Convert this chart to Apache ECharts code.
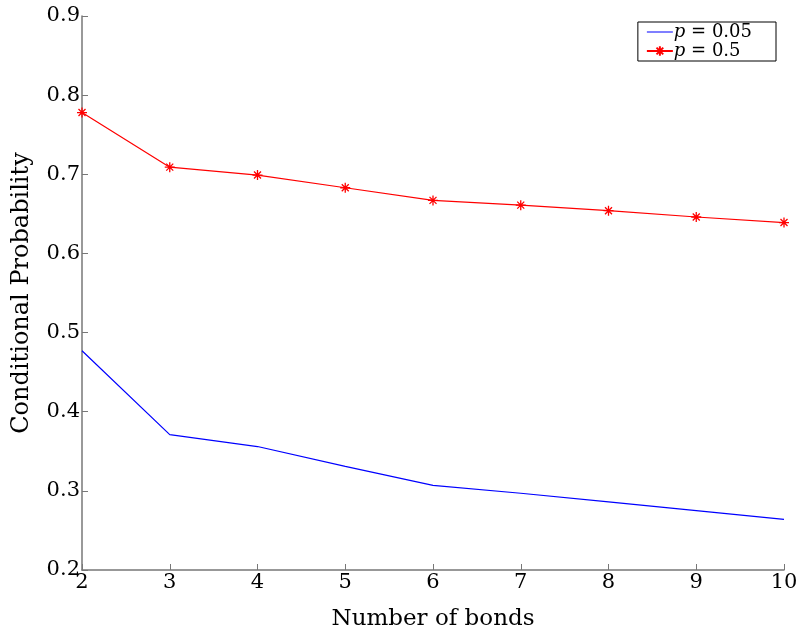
<!DOCTYPE html>
<html><head><meta charset="utf-8">
<script src="https://cdn.jsdelivr.net/npm/echarts@6/dist/echarts.min.js"></script>
<style>html,body{margin:0;padding:0;background:#fff}#c{width:806px;height:635px}</style>
</head><body><div id="c"></div>
<script>
const bonds = [2,3,4,5,6,7,8,9,10];
const pLow = [0.477,0.371,0.356,0.331,0.307,0.297,0.286,0.275,0.264];
const pHigh = [0.778,0.709,0.699,0.683,0.667,0.661,0.654,0.646,0.639];
const xTicks = [2,3,4,5,6,7,8,9,10];
const yTicks = [0.2,0.3,0.4,0.5,0.6,0.7,0.8,0.9];
const seriesNames = ['{i|p} = 0.05','{i|p} = 0.5'];
const FONT = 'DejaVu Serif';
const star = 'path://M0,-10L0,10M-10,0L10,0M-7,-7L7,7M-7,7L7,-7';
const lineIcon = 'path://M0,0L0.01,0L0,0.01ZM0,5.4L26,5.4L26,6.6L0,6.6ZM0,12L0.01,12L0,12.01Z';
const chart = echarts.init(document.getElementById('c'));
chart.setOption({
  animation:false,
  backgroundColor:'#fff',
  grid:{left:82,right:22,top:16,bottom:65,containLabel:false,outerBoundsMode:'none'},
  legend:{
    right:30, top:22, orient:'vertical', itemGap:1, itemWidth:26, itemHeight:12,
    borderColor:'#000', borderWidth:1, padding:[1,24,1,8], borderRadius:0,
    backgroundColor:'#fff',
    textStyle:{fontFamily:FONT,fontSize:18,color:'#000',padding:[0,0,0,-4],
      rich:{i:{fontFamily:FONT,fontStyle:'italic',fontSize:18,color:'#000'}}},
    data:[{name:seriesNames[0],icon:lineIcon},{name:seriesNames[1]}]
  },
  xAxis:{
    type:'value', min:2, max:10, interval:1,
    name:'Number of bonds', nameLocation:'middle', nameGap:38,
    nameTextStyle:{fontFamily:FONT,fontSize:23,color:'#000'},
    axisLine:{lineStyle:{color:'#777',width:1.5}},
    axisTick:{inside:true,length:6,lineStyle:{color:'#777'}},
    axisLabel:{fontFamily:FONT,fontSize:21,color:'#000',margin:2},
    splitLine:{show:false}
  },
  yAxis:{
    type:'value', min:0.2, max:0.9, interval:0.1,
    name:'Conditional Probability', nameLocation:'middle', nameGap:48,
    nameTextStyle:{fontFamily:FONT,fontSize:24,color:'#000'},
    axisLine:{show:true,lineStyle:{color:'#777',width:1.5}},
    axisTick:{show:true,inside:true,length:6,lineStyle:{color:'#777'}},
    axisLabel:{fontFamily:FONT,fontSize:21,color:'#000',margin:2,
      formatter:v=>v.toFixed(1)},
    splitLine:{show:false}
  },
  series:[
    {name:seriesNames[0],type:'line',data:bonds.map((b,i)=>[b,pLow[i]]),
     symbol:'none',lineStyle:{color:'#0000ff',width:1.2},itemStyle:{color:'#0000ff'}},
    {name:seriesNames[1],type:'line',data:bonds.map((b,i)=>[b,pHigh[i]]),
     symbol:star,symbolSize:10,lineStyle:{color:'#ff0000',width:1.2},
     itemStyle:{color:'#ff0000',borderColor:'#ff0000',borderWidth:1.3}}
  ]
});
</script></body></html>
